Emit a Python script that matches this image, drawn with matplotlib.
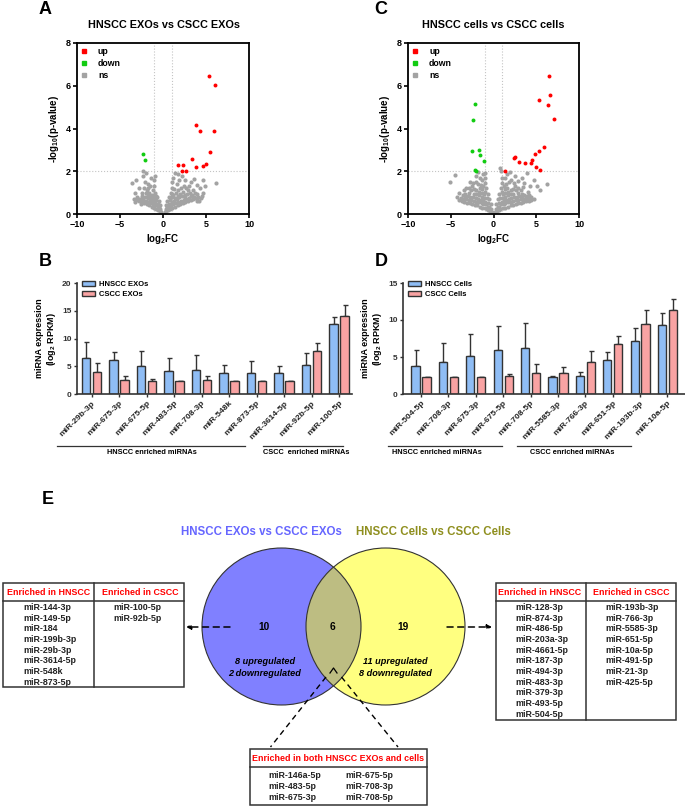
import numpy as np
import matplotlib
matplotlib.use('Agg')
import matplotlib.pyplot as plt
from matplotlib.patches import Ellipse, Rectangle
from matplotlib.lines import Line2D

plt.rcParams['font.family'] = ['Liberation Sans', 'DejaVu Sans']
plt.rcParams['font.weight'] = 'bold'
plt.rcParams['mathtext.fontset'] = 'custom'
plt.rcParams['mathtext.bf'] = 'Liberation Sans:bold'
plt.rcParams['mathtext.rm'] = 'Liberation Sans:bold'
plt.rcParams['mathtext.default'] = 'bf'

# ---- volcano data (log2FC, -log10 p) ----
a_up = [(5.4, 6.44), (6.1, 6.04), (3.8, 4.17), (4.3, 3.9), (5.9, 3.9), (5.5, 2.9),
        (3.37, 2.58), (3.8, 2.18), (1.74, 2.27), (2.33, 2.27), (2.2, 2.02), (2.64, 2.02),
        (4.65, 2.26), (4.97, 2.35)]
a_down = [(-2.3, 2.8), (-2.1, 2.54)]
a_ns = [(-0.2, 0.1), (-0.4, 0.15), (-0.6, 0.2), (-0.8, 0.25), (-1.0, 0.3), (-1.3, 0.35), (-1.6, 0.4),
        (-1.9, 0.45), (-2.2, 0.5), (-2.5, 0.55), (-2.8, 0.6), (-3.1, 0.65), (-3.4, 0.7),
        (-0.3, 0.4), (-0.5, 0.6), (-0.7, 0.8), (-0.9, 1.0), (-1.0, 1.3), (-1.1, 1.6), (-0.95, 1.8),
        (-1.2, 0.6), (-1.5, 0.7), (-1.8, 0.75), (-2.1, 0.8), (-2.4, 0.85), (-2.7, 0.7), (-3.0, 0.8),
        (-1.0, 0.7), (-1.3, 0.9), (-1.6, 1.0), (-1.9, 1.1), (-2.2, 1.2), (-2.5, 1.0),
        (-0.6, 0.45), (-0.9, 0.55), (-1.4, 0.55), (-2.0, 0.6), (-2.6, 0.45), (-3.2, 0.55),
        (-1.2, 1.1), (-1.5, 1.3), (-1.8, 1.4), (-2.1, 1.5), (-2.3, 1.8), (-2.33, 1.99), (-1.4, 1.7),
        (-1.7, 1.2), (-3.1, 1.6), (-3.56, 1.45), (-2.8, 1.2), (-3.3, 1.0), (-2.0, 1.9),
        (-0.3, 0.25), (-0.5, 0.35), (-0.7, 0.4), (-1.1, 0.45), (-1.5, 0.5), (-1.8, 0.55), (-2.3, 0.65),
        (-2.9, 0.7), (-0.8, 0.65), (-1.1, 0.85), (-1.4, 0.8), (-1.7, 0.9), (-2.0, 1.0), (-0.6, 0.3),
        (-0.9, 0.4), (-1.2, 0.45), (-2.4, 0.7), (-1.25, 0.7), (-1.55, 0.85), (-0.85, 0.85),
        (0.2, 0.1), (0.4, 0.15), (0.6, 0.2), (0.8, 0.25), (1.1, 0.3), (1.4, 0.35), (1.7, 0.4),
        (2.0, 0.45), (2.3, 0.5), (2.6, 0.55), (2.9, 0.6), (3.2, 0.65), (3.5, 0.7), (3.8, 0.75),
        (4.1, 0.8), (4.4, 0.75), (0.3, 0.4), (0.5, 0.6), (0.7, 0.8), (0.9, 1.0), (1.0, 1.2),
        (1.1, 1.5), (1.2, 1.7), (1.4, 1.9), (1.3, 0.6), (1.6, 0.7), (1.9, 0.8), (2.2, 0.85),
        (2.5, 0.9), (2.8, 0.95), (3.1, 1.0), (3.4, 0.9), (3.7, 1.0), (4.0, 0.95), (1.2, 0.9),
        (1.5, 1.0), (1.8, 1.1), (2.1, 1.2), (2.4, 1.3), (2.7, 1.2), (3.0, 1.3), (0.7, 0.45),
        (1.0, 0.55), (1.5, 0.5), (2.1, 0.6), (2.7, 0.7), (3.3, 0.85), (4.2, 0.6), (1.6, 1.4),
        (1.9, 1.6), (2.2, 1.8), (1.8, 1.85), (2.6, 1.6), (3.2, 1.5), (3.6, 1.65), (4.3, 1.2),
        (4.65, 1.6), (4.6, 1.0), (4.9, 1.3), (4.5, 0.85), (6.2, 1.45), (3.9, 1.35),
        (0.3, 0.25), (0.5, 0.35), (0.7, 0.35), (0.9, 0.4), (1.2, 0.45), (1.8, 0.55), (2.4, 0.65),
        (3.0, 0.75), (3.6, 0.8), (0.8, 0.65), (1.1, 0.8), (1.4, 0.75), (1.7, 0.85), (2.0, 0.95),
        (2.3, 1.05), (2.9, 1.1), (3.5, 1.1), (0.6, 0.3), (1.3, 1.15), (4.0, 0.7), (1.05, 0.95),
        (2.55, 0.75), (3.9, 0.6)]

c_up = [(6.48, 6.47), (6.63, 5.57), (5.38, 5.34), (6.36, 5.09), (7.02, 4.46), (5.89, 3.14),
        (5.38, 2.93), (4.87, 2.79), (2.37, 2.6), (2.57, 2.67), (3.03, 2.43), (3.7, 2.39),
        (4.56, 2.51), (4.44, 2.39), (4.99, 2.2), (5.46, 2.04), (1.39, 2.03)]
c_down = [(-2.13, 5.15), (-2.44, 4.41), (-1.66, 3.0), (-2.52, 2.93), (-1.58, 2.76),
          (-1.15, 2.46), (-2.2, 2.04), (-2.01, 2.0)]
c_ns = [(-0.2, 0.1), (-0.4, 0.15), (-0.6, 0.2), (-0.8, 0.25), (-1.0, 0.3), (-1.3, 0.3), (-1.6, 0.35),
        (-1.9, 0.4), (-2.2, 0.4), (-2.5, 0.45), (-2.8, 0.5), (-3.1, 0.5), (-3.4, 0.55), (-3.7, 0.6),
        (-4.0, 0.65), (-0.3, 0.45), (-0.5, 0.7), (-0.7, 0.95), (-0.85, 1.2), (-0.95, 1.45),
        (-1.0, 1.7), (-1.05, 1.9), (-1.2, 0.6), (-1.5, 0.65), (-1.8, 0.7), (-2.1, 0.75), (-2.4, 0.8),
        (-2.7, 0.8), (-3.0, 0.85), (-3.3, 0.8), (-3.6, 0.9), (-1.1, 0.95), (-1.4, 1.0), (-1.7, 1.05),
        (-2.0, 1.1), (-2.3, 1.15), (-2.6, 1.1), (-2.9, 1.2), (-0.7, 0.5), (-1.0, 0.55), (-1.4, 0.5),
        (-2.0, 0.55), (-2.6, 0.65), (-3.2, 0.7), (-3.8, 0.75), (-1.2, 1.3), (-1.5, 1.35), (-1.8, 1.4),
        (-2.1, 1.5), (-2.4, 1.45), (-1.3, 1.6), (-1.6, 1.7), (-2.0, 1.8), (-2.7, 1.5), (-3.2, 1.2),
        (-3.5, 1.1), (-4.0, 1.0), (-4.5, 1.84), (-5.1, 1.48), (-1.2, 1.85), (-1.8, 1.95),
        (-0.3, 0.25), (-0.5, 0.35), (-0.7, 0.35), (-0.9, 0.45), (-1.2, 0.45), (-1.7, 0.55),
        (-2.3, 0.6), (-2.9, 0.65), (-3.5, 0.7), (-0.8, 0.75), (-1.1, 0.75), (-1.4, 0.8), (-1.7, 0.9),
        (-2.0, 0.95), (-2.3, 0.95), (-2.9, 1.0), (-3.3, 0.95), (-0.6, 0.3), (-1.3, 1.15),
        (-1.6, 1.2), (-2.5, 1.3), (-4.3, 0.8), (-0.95, 1.05),
        (0.2, 0.1), (0.4, 0.15), (0.6, 0.2), (0.8, 0.25), (1.1, 0.3), (1.4, 0.3), (1.7, 0.35),
        (2.0, 0.4), (2.3, 0.4), (2.6, 0.45), (2.9, 0.5), (3.2, 0.5), (3.5, 0.55), (3.8, 0.6),
        (4.1, 0.6), (4.4, 0.65), (4.7, 0.7), (0.3, 0.45), (0.5, 0.7), (0.7, 0.95), (0.85, 1.2),
        (0.95, 1.45), (1.0, 1.7), (0.8, 2.14), (0.92, 2.0), (1.2, 0.6), (1.5, 0.65), (1.8, 0.7),
        (2.1, 0.75), (2.4, 0.8), (2.7, 0.8), (3.0, 0.85), (3.3, 0.8), (3.6, 0.9), (3.9, 0.85),
        (4.2, 0.9), (1.1, 0.95), (1.4, 1.0), (1.7, 1.05), (2.0, 1.1), (2.3, 1.15), (2.6, 1.1),
        (2.9, 1.2), (3.2, 1.1), (3.5, 1.25), (0.7, 0.5), (1.0, 0.55), (1.4, 0.5), (2.0, 0.55),
        (2.6, 0.65), (3.2, 0.7), (3.8, 0.75), (4.4, 0.8), (1.2, 1.3), (1.5, 1.4), (1.8, 1.5),
        (2.1, 1.6), (2.4, 1.45), (1.3, 1.7), (1.6, 1.85), (2.5, 1.8), (2.9, 1.55), (3.3, 1.7),
        (3.9, 1.9), (4.68, 1.6), (5.07, 1.29), (5.4, 1.1), (6.24, 1.42), (4.3, 1.3), (1.9, 1.95),
        (3.6, 1.45), (0.3, 0.25), (0.5, 0.35), (0.7, 0.35), (0.9, 0.45), (1.2, 0.45), (1.7, 0.55),
        (2.3, 0.6), (2.9, 0.65), (3.5, 0.7), (4.1, 0.75), (0.8, 0.75), (1.1, 0.75), (1.4, 0.8),
        (1.7, 0.9), (2.0, 0.95), (2.3, 0.95), (2.9, 1.0), (3.3, 0.95), (0.6, 0.3), (1.3, 1.15),
        (1.6, 1.2), (2.5, 1.3), (4.0, 1.05), (0.95, 1.05)]

# ---- bar data ----
b_labels = ['miR-29b-3p', 'miR-675-3p', 'miR-675-5p', 'miR-483-5p', 'miR-708-3p', 'miR-548k',
            'miR-873-5p', 'miR-3614-5p', 'miR-92b-5p', 'miR-100-5p']
b_hn = [6.4, 6.1, 5.0, 4.1, 4.4, 3.8, 3.8, 3.7, 5.2, 12.7]
b_hn_sd = [2.9, 1.4, 2.7, 2.3, 2.6, 1.5, 2.1, 1.3, 2.1, 1.2]
b_cs = [3.9, 2.5, 2.4, 2.3, 2.5, 2.3, 2.3, 2.3, 7.7, 14.05]
b_cs_sd = [1.7, 0.7, 0.3, 0, 0.7, 0, 0, 0, 1.5, 1.95]

d_labels = ['miR-504-5p', 'miR-708-3p', 'miR-675-3p', 'miR-675-5p', 'miR-708-5p', 'miR-5585-3p',
            'miR-766-3p', 'miR-651-5p', 'miR-193b-3p', 'miR-10a-5p']
d_hn = [3.75, 4.3, 5.2, 5.9, 6.2, 2.3, 2.5, 4.6, 7.1, 9.3]
d_hn_sd = [2.15, 2.6, 2.9, 3.3, 3.4, 0.1, 0.5, 1.1, 1.8, 1.7]
d_cs = [2.3, 2.3, 2.3, 2.5, 2.85, 2.8, 4.3, 6.8, 9.4, 11.4]
d_cs_sd = [0, 0, 0, 0.2, 1.15, 0.8, 1.5, 1.1, 1.9, 1.5]

# ---- venn / tables ----
venn_counts = [10, 6, 19]
exo_reg = ['8 upregulated', '2 downregulated']
cell_reg = ['11 upregulated', '8 downregulated']
exo_hn = ['miR-144-3p', 'miR-149-5p', 'miR-184', 'miR-199b-3p', 'miR-29b-3p', 'miR-3614-5p',
          'miR-548k', 'miR-873-5p']
exo_cs = ['miR-100-5p', 'miR-92b-5p']
cell_hn = ['miR-128-3p', 'miR-874-3p', 'miR-486-5p', 'miR-203a-3p', 'miR-4661-5p', 'miR-187-3p',
           'miR-494-3p', 'miR-483-3p', 'miR-379-3p', 'miR-493-5p', 'miR-504-5p']
cell_cs = ['miR-193b-3p', 'miR-766-3p', 'miR-5585-3p', 'miR-651-5p', 'miR-10a-5p', 'miR-491-5p',
           'miR-21-3p', 'miR-425-5p']
both_1 = ['miR-146a-5p', 'miR-483-5p', 'miR-675-3p']
both_2 = ['miR-675-5p', 'miR-708-3p', 'miR-708-5p']

W, H = 685, 806
fig = plt.figure(figsize=(6.85, 8.06), dpi=100)


def rect(l, t, r, b):
    return [l / W, 1 - b / H, (r - l) / W, (b - t) / H]


ov = fig.add_axes([0, 0, 1, 1])
ov.set_xlim(0, W)
ov.set_ylim(H, 0)
ov.axis('off')


def volcano(r, ns, up, down):
    ax = fig.add_axes(r)
    for v in (-1, 1):
        ax.axvline(v, color='#c4c4c4', ls=':', lw=0.8, zorder=0)
    ax.axhline(2, color='#c4c4c4', ls=':', lw=0.8, zorder=0)
    ax.scatter(*zip(*ns), s=9, c='#a3a3a3', lw=0, zorder=2)
    ax.scatter(*zip(*up), s=8, c='#ff0000', lw=0, zorder=3)
    ax.scatter(*zip(*down), s=8, c='#11cc11', lw=0, zorder=3)
    ax.set_xlim(-10, 10)
    ax.set_ylim(0, 8)
    ax.set_xticks([-10, -5, 0, 5, 10])
    ax.set_yticks([0, 2, 4, 6, 8])
    for s in ax.spines.values():
        s.set_linewidth(1.3)
    ax.tick_params(direction='out', length=3, width=1.2, labelsize=6.5, pad=1.5)
    ax.set_xlabel('log$_2$FC', fontsize=7, fontweight='bold', labelpad=2)
    ax.set_ylabel('-log$_{10}$(p-value)', fontsize=7, fontweight='bold', labelpad=3)
    hs = [Line2D([], [], marker='s', ls='', color=c, markersize=2.3) for c in ('#ff0000', '#11cc11', '#a3a3a3')]
    ax.legend(hs, ['up', 'down', 'ns'], loc='upper left', frameon=False, fontsize=6.3,
              handlelength=0.6, handletextpad=1.3, labelspacing=0.35, borderaxespad=0.3, borderpad=0.2)
    return ax


volcano(rect(77, 43, 249, 214), a_ns, a_up, a_down)
volcano(rect(408, 43, 579, 214), c_ns, c_up, c_down)


def bars(r, labels, hn, hn_sd, cs, cs_sd, ymax, leg, xl):
    ax = fig.add_axes(r)
    x = np.arange(len(labels))
    z = np.zeros(len(labels))
    ax.bar(x - 0.2, hn, 0.3, color='#8fbdf5', edgecolor='#333333', lw=1, label=leg[0], zorder=2)
    ax.bar(x + 0.2, cs, 0.3, color='#f9a3a3', edgecolor='#333333', lw=1, label=leg[1], zorder=2)
    ax.errorbar(x - 0.2, hn, yerr=[z, hn_sd], fmt='none', ecolor='#333333', elinewidth=1,
                capsize=1.8, capthick=1, zorder=1)
    ax.errorbar(x + 0.2, cs, yerr=[z, cs_sd], fmt='none', ecolor='#333333', elinewidth=1,
                capsize=1.8, capthick=1, zorder=1)
    ax.set_xlim(*xl)
    ax.set_ylim(0, ymax)
    ax.set_yticks(np.arange(0, ymax + 1, 5))
    ax.set_xticks(x)
    ax.set_xticklabels(labels, rotation=45, ha='right', rotation_mode='anchor')
    for s in ('top', 'right'):
        ax.spines[s].set_visible(False)
    for s in ('left', 'bottom'):
        ax.spines[s].set_linewidth(1.2)
        ax.spines[s].set_color('#333333')
    ax.tick_params(direction='out', length=2.5, width=1, labelsize=6, pad=1.5, colors='#333333')
    ax.tick_params(axis='x', labelsize=6.1, labelcolor='#222222')
    ax.set_ylabel('miRNA expression\n(log$_2$ RPKM)', fontsize=6.5, fontweight='bold', labelpad=3,
                  linespacing=1.1)
    ax.legend(loc='upper left', bbox_to_anchor=(0.0, 1.06), frameon=False, fontsize=5.5,
              handlelength=1.8, handleheight=0.6, handletextpad=0.5, labelspacing=0.35, borderaxespad=0.2)
    return ax


bars(rect(77, 283, 352, 394), b_labels, b_hn, b_hn_sd, b_cs, b_cs_sd, 20,
     ['HNSCC EXOs', 'CSCC EXOs'], (-0.53, 9.47))
bars(rect(403, 283, 685, 394), d_labels, d_hn, d_hn_sd, d_cs, d_cs_sd, 15,
     ['HNSCC Cells', 'CSCC Cells'], (-0.66, 9.64))

# panel letters and titles
for t, x, y in (('A', 45, 10), ('C', 381, 10), ('B', 45, 261), ('D', 381, 261), ('E', 48, 500)):
    ov.text(x, y, t, fontsize=13, fontweight='bold', ha='center', va='center')
ov.text(164, 25, 'HNSCC EXOs vs CSCC EXOs', fontsize=7.8, fontweight='bold', ha='center', va='center')
ov.text(493.5, 25, 'HNSCC cells vs CSCC cells', fontsize=7.8, fontweight='bold', ha='center', va='center')

# group brackets under bar charts
for x0, x1, xt, t in ((57, 245, 151.7, 'HNSCC enriched miRNAs'), (263, 343, 305.7, 'CSCC  enriched miRNAs'),
                      (388, 502, 437, 'HNSCC enriched miRNAs'), (517, 631, 572, 'CSCC enriched miRNAs')):
    ov.plot([x0, x1], [446, 446], color='#333333', lw=0.9)
    ov.text(xt, 453, t, fontsize=5.3, fontweight='bold', ha='center', va='center')

# venn
ov.text(261, 532, 'HNSCC EXOs vs CSCC EXOs', fontsize=8.3, fontweight='bold', color='#6666ff',
        ha='center', va='center')
ov.text(433, 532, 'HNSCC Cells vs CSCC Cells', fontsize=8.3, fontweight='bold', color='#8f8f1f',
        ha='center', va='center')
blue = Ellipse((281.5, 626.5), 159, 157, facecolor='#8080ff', edgecolor='none')
yell = Ellipse((385.5, 626.5), 159, 157, facecolor='#ffff80', edgecolor='none')
ov.add_patch(blue)
ov.add_patch(yell)
lens = Ellipse((281.5, 626.5), 159, 157, facecolor='#bdbd82', edgecolor='none')
ov.add_patch(lens)
lens.set_clip_path(yell)
for c in (281.5, 385.5):
    ov.add_patch(Ellipse((c, 626.5), 159, 157, fill=False, edgecolor='#333333', lw=0.8))
for x, n in zip((264, 333, 403), venn_counts):
    ov.text(x, 627, str(n), fontsize=7.3, fontweight='bold', ha='center', va='center')
for i, t in enumerate(exo_reg):
    ov.text(265, 662 + i * 11.6, t, fontsize=6.6, fontweight='bold', style='italic', ha='center', va='center')
for i, t in enumerate(cell_reg):
    ov.text(395.5, 662 + i * 11.6, t, fontsize=6.6, fontweight='bold', style='italic', ha='center', va='center')

arr = dict(arrowstyle='-|>', ls=(0, (4, 3)), lw=1.1, color='black', mutation_scale=7, shrinkA=0, shrinkB=0)
ov.annotate('', xy=(186, 627), xytext=(230, 627), arrowprops=arr)
ov.annotate('', xy=(492, 627), xytext=(447, 627), arrowprops=arr)
ov.plot([326, 270.5], [677, 747], color='black', lw=1, ls=(0, (4, 3)))
ov.plot([341.5, 398], [677, 747], color='black', lw=1, ls=(0, (4, 3)))
ov.plot([330, 333.5, 337], [673, 668, 673], color='black', lw=0.9)


def table(x0, x1, y0, y1, xd, yh, heads, cols, xs, ys):
    ov.add_patch(Rectangle((x0, y0), x1 - x0, y1 - y0, fill=False, edgecolor='#333333', lw=1.1))
    ov.plot([x0, x1], [yh, yh], color='#333333', lw=1.1)
    if xd is not None:
        ov.plot([xd, xd], [y0, y1], color='#333333', lw=1.1)
    for hx, h in heads:
        ov.text(hx, (y0 + yh) / 2 + 0.5, h, fontsize=6.4, fontweight='bold', color='#ff0000',
                ha='center', va='center')
    for col, x in zip(cols, xs):
        for i, t in enumerate(col):
            ov.text(x, ys + i * 10.67, t, fontsize=6.4, fontweight='bold', color='#222222',
                    ha='left', va='center')


table(3.5, 184, 582.7, 686.7, 94, 600.7, [(49, 'Enriched in HNSCC'), (140, 'Enriched in CSCC')],
      [exo_hn, exo_cs], [23, 113], 607.5)
table(496, 676, 582.7, 720, 586, 600.7, [(540, 'Enriched in HNSCC'), (631, 'Enriched in CSCC')],
      [cell_hn, cell_cs], [515, 605], 607.5)
table(250.5, 426.6, 749, 805, None, 766.7, [(338.5, 'Enriched in both HNSCC EXOs and cells')],
      [both_1, both_2], [268, 345], 775.7)

fig.savefig('out.png', dpi=100)
